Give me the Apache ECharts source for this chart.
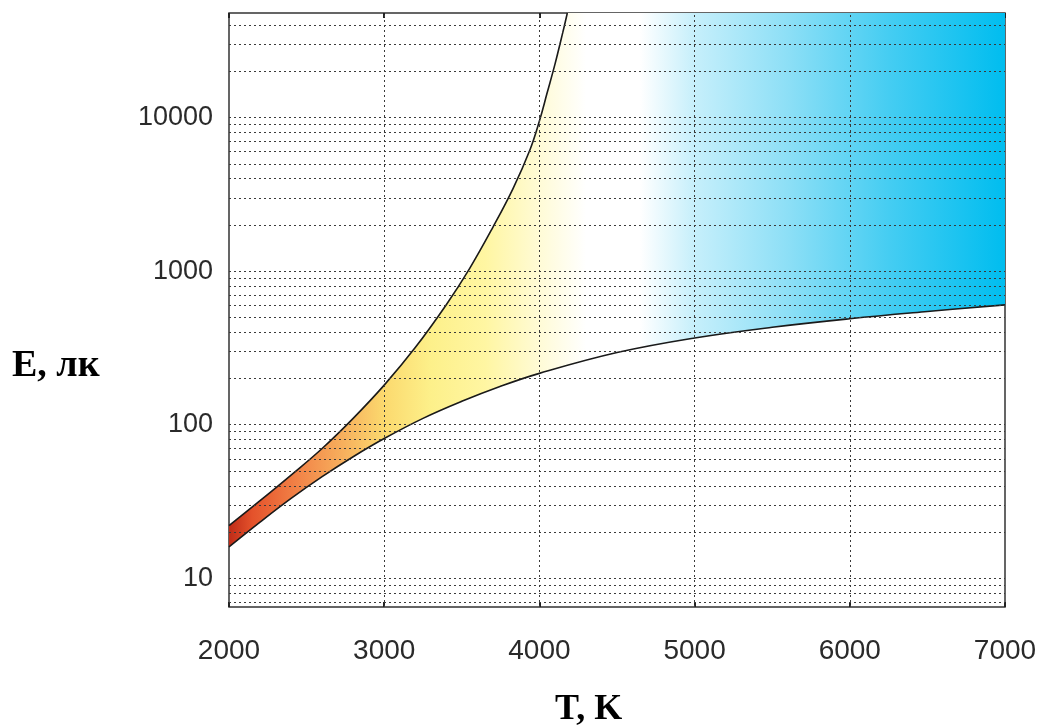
<!DOCTYPE html>
<html><head><meta charset="utf-8">
<script src="https://cdn.jsdelivr.net/npm/echarts@6/dist/echarts.min.js"></script>
<style>html,body{margin:0;padding:0;background:#fff}#c{width:1041px;height:727px}</style>
</head><body><div id="c"></div>
<script>
// Kruithof curve data
const upperT = [2000, 2200, 2400, 2600, 2800, 3000, 3200, 3400, 3550, 3700, 3830, 3940, 4000, 4050, 4100, 4150, 4180];
const upperE = [22, 32, 47, 70, 110, 181, 318, 605, 1040, 1930, 3450, 6200, 9500, 14500, 22200, 35600, 48000];
const lowerT = [2000, 2200, 2400, 2600, 2800, 3000, 3250, 3500, 3750, 4000, 4500, 5000, 5500, 6000, 6500, 7000];
const lowerE = [16, 23.2, 33.1, 45.9, 61.9, 81.3, 110, 142, 178, 216, 295, 367, 431, 490, 546, 603];
const xTicks = [2000, 3000, 4000, 5000, 6000, 7000];
const yTickLabels = [10, 100, 1000, 10000];
const yGridValues = [7, 8, 9, 10, 20, 30, 40, 50, 60, 70, 80, 90,
  100, 200, 300, 400, 500, 600, 700, 800, 900,
  1000, 2000, 3000, 4000, 5000, 6000, 7000, 8000, 9000,
  10000, 20000, 30000, 40000];
const xGridValues = [3000, 4000, 5000, 6000];
const xMin = 2000, xMax = 7000, yMin = 6.5, yMax = 48000;

const stops = [
  {offset: 0.00, color: '#bf2c18'},
  {offset: 0.03, color: '#e4522b'},
  {offset: 0.09, color: '#f28448'},
  {offset: 0.15, color: '#f7b25e'},
  {offset: 0.20, color: '#fbd96e'},
  {offset: 0.26, color: '#fdf08a'},
  {offset: 0.33, color: '#fff6a2'},
  {offset: 0.40, color: '#fffbd6'},
  {offset: 0.46, color: '#ffffff'},
  {offset: 0.53, color: '#ffffff'},
  {offset: 0.60, color: '#c6effb'},
  {offset: 0.72, color: '#8ddff6'},
  {offset: 0.85, color: '#45cdf2'},
  {offset: 1.00, color: '#00bdef'}
];

const chart = echarts.init(document.getElementById('c'), null, {renderer: 'canvas'});
const dotted = {type: [2, 3], color: '#3a3a3a', width: 1};
const mkLines = [];
yGridValues.forEach(v => mkLines.push({yAxis: v}));
xGridValues.forEach(v => mkLines.push({xAxis: v}));

chart.setOption({
  animation: false,
  backgroundColor: '#fff',
  grid: {left: 229, top: 13, right: 36, bottom: 120, show: true, borderColor: '#333', borderWidth: 1.5, backgroundColor: 'transparent'},
  xAxis: [{
    type: 'value', min: xMin, max: xMax, interval: 1000,
    axisLine: {show: false},
    axisTick: {show: true, inside: true, length: 5, lineStyle: {color: '#222', width: 2}},
    splitLine: {show: false},
    axisLabel: {margin: 30, fontSize: 28, color: '#2a2a2a', fontFamily: 'Liberation Sans, Arial, sans-serif',
      formatter: v => xTicks.indexOf(Math.round(v)) >= 0 ? String(Math.round(v)) : ''}
  }, {
    type: 'value', min: xMin, max: xMax, interval: 1000, position: 'top',
    axisLine: {show: false},
    axisTick: {show: true, inside: true, length: 5, lineStyle: {color: '#222', width: 2}},
    splitLine: {show: false},
    axisLabel: {show: false}
  }],
  yAxis: {
    type: 'log', min: yMin, max: yMax, logBase: 10,
    axisLine: {show: false},
    axisTick: {show: false},
    splitLine: {show: false},
    axisLabel: {
      margin: 16, fontSize: 27, color: '#2a2a2a', fontFamily: 'Liberation Sans, Arial, sans-serif',
      showMinLabel: false, showMaxLabel: false,
      formatter: v => {
        const r = Math.round(v);
        return (yTickLabels.indexOf(r) >= 0 && Math.abs(v - r) < 1e-6 * r) ? String(r) : '';
      }
    }
  },
  graphic: [
    {type: 'text', left: 12, top: 347, style: {text: 'E, лк', font: 'bold 38px "Liberation Serif", "Times New Roman", serif', fill: '#000'}},
    {type: 'text', left: 555, top: 692, style: {text: 'T, K', font: 'bold 36px "Liberation Serif", "Times New Roman", serif', fill: '#000'}}
  ],
  series: [
    {
      type: 'custom', z: 1, silent: true, clip: true,
      data: [[xMin, lowerE[0]]],
      renderItem: (params, api) => {
        const pts = [];
        for (let i = 0; i < upperT.length; i++) pts.push(api.coord([upperT[i], upperE[i]]));
        pts.push(api.coord([xMax, yMax]));
        for (let i = lowerT.length - 1; i >= 0; i--) pts.push(api.coord([lowerT[i], lowerE[i]]));
        const x0 = api.coord([xMin, 10])[0], x1 = api.coord([xMax, 10])[0];
        return {
          type: 'polygon', shape: {points: pts},
          style: {fill: new echarts.graphic.LinearGradient(x0, 0, x1, 0, stops, true)}
        };
      }
    },
    {
      type: 'line', z: 3, symbol: 'none', smooth: 0.4, silent: true,
      data: upperT.map((t, i) => [t, upperE[i]]),
      lineStyle: {color: '#1a1a1a', width: 1.6}
    },
    {
      type: 'line', z: 3, symbol: 'none', smooth: 0.4, silent: true,
      data: lowerT.map((t, i) => [t, lowerE[i]]),
      lineStyle: {color: '#1a1a1a', width: 1.6},
      markLine: {
        silent: true, symbol: ['none', 'none'], label: {show: false},
        lineStyle: dotted, animation: false,
        data: mkLines
      }
    }
  ]
});
</script>
</body></html>
